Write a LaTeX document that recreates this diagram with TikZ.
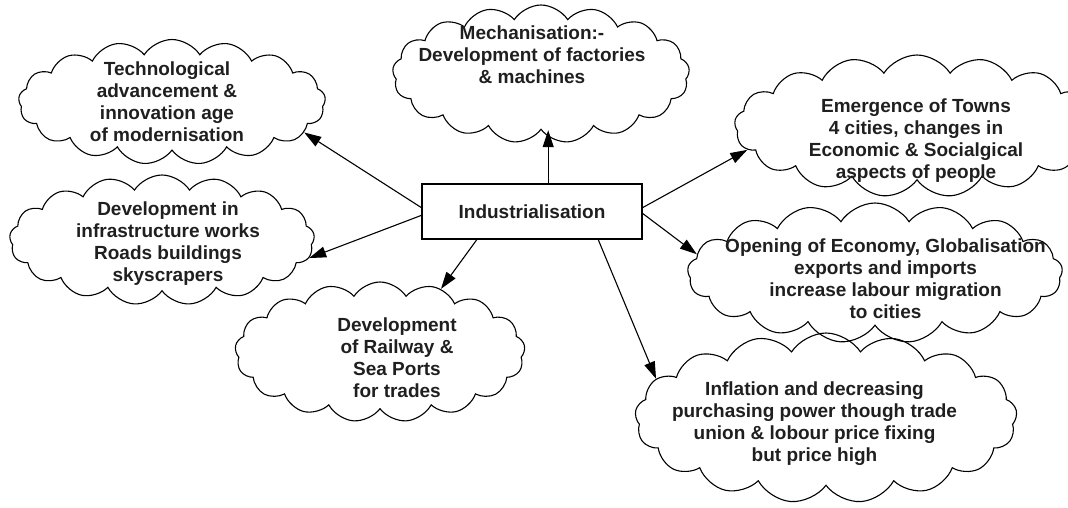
\documentclass[tikz,border=0pt]{standalone}
\usepackage{fontspec}
\setmainfont{Liberation Sans}
\usetikzlibrary{shapes.symbols,arrows.meta}
\begin{document}
\begin{tikzpicture}[x=1pt,y=-1pt]
\tikzset{
 cl/.style={draw, cloud, cloud puffs=17, cloud puff arc=115, cloud ignores aspect, inner sep=0pt, line width=1.1pt},
 txt/.style={font=\bfseries\fontsize{19}{22}\selectfont, align=center, text=black!88, inner sep=0pt},
 arr/.style={-{Triangle[length=17pt,width=11pt]}, line width=1.1pt},
}
\useasboundingbox (0,0) rectangle (1068,508);
% clouds
\node[cl, minimum width=307pt, minimum height=125pt] (tech) at (172,102) {};
\node[cl, minimum width=297pt, minimum height=138pt] (mech) at (541,74) {};
\node[cl, minimum width=365pt, minimum height=142pt] (emer) at (917,126) {};
\node[cl, minimum width=305pt, minimum height=130pt] (infra) at (162,240) {};
\node[cl, minimum width=290pt, minimum height=140pt] (rail) at (380,352) {};
\node[cl, minimum width=375pt, minimum height=140pt] (open) at (875,273) {};
\node[cl, minimum width=382pt, minimum height=170pt] (infl) at (826,418) {};
% texts
\node[txt] (techt) at (167,101.5) {Technological\\advancement \&\\innovation age\\of modernisation};
\node[txt] (mecht) at (532,54.5) {Mechanisation:-\\Development of factories\\\& machines};
\node[txt] (emert) at (916,140.5) {Emergence of Towns\\4 cities, changes in\\Economic \& Socialgical\\aspects of people};
\node[txt] (infrat) at (168,243.5) {Development in\\infrastructure works\\Roads buildings\\skyscrapers};
\node[txt] (railt) at (397,358) {Development\\of Railway \&\\Sea Ports\\for trades};
\node[txt] (opent) at (885.5,279) {Opening of Economy, Globalisation\\exports and imports\\increase labour migration\\to cities};
\node[txt] (inflt) at (814.5,423.5) {Inflation and decreasing\\purchasing power though trade\\union \& lobour price fixing\\but price high};
% centre box
\node[txt, draw, line width=1.2pt, minimum width=220pt, minimum height=55pt] (box) at (532,211.5) {Industrialisation};
% arrows
\draw[arr] (box.178) -- (tech.-13);
\draw[arr] (box.182) -- (infra.-7);
\draw[arr] (box.207) -- (rail.46);
\draw[arr] (box.60) -- (box.60 |- mech.south);
\draw[arr] (box.2) -- (emer.188);
\draw[arr] (box.-1) -- (open.174);
\draw[arr] (box.-23) -- (infl.167);
\end{tikzpicture}
\end{document}
